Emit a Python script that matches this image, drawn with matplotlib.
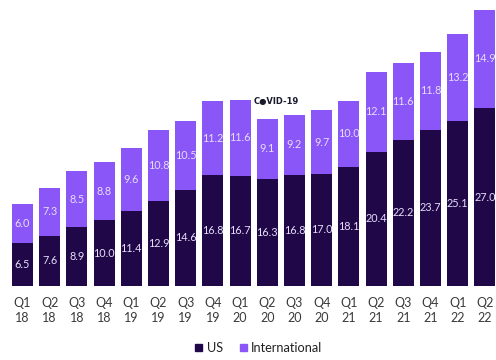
import matplotlib
matplotlib.use("Agg")
import matplotlib.pyplot as plt
from matplotlib.patches import Patch

quarters = ["Q1\n18", "Q2\n18", "Q3\n18", "Q4\n18",
            "Q1\n19", "Q2\n19", "Q3\n19", "Q4\n19",
            "Q1\n20", "Q2\n20", "Q3\n20", "Q4\n20",
            "Q1\n21", "Q2\n21", "Q3\n21", "Q4\n21",
            "Q1\n22", "Q2\n22"]
us = [6.5, 7.6, 8.9, 10.0, 11.4, 12.9, 14.6, 16.8, 16.7,
      16.3, 16.8, 17.0, 18.1, 20.4, 22.2, 23.7, 25.1, 27.0]
international = [6.0, 7.3, 8.5, 8.8, 9.6, 10.8, 10.5, 11.2, 11.6,
                 9.1, 9.2, 9.7, 10.0, 12.1, 11.6, 11.8, 13.2, 14.9]
covid_index = 9

dark = "#200848"
light = "#8a56f7"
label_col = "#e6ddfa"

plt.rcParams["font.family"] = ["Lato", "DejaVu Sans"]

fig = plt.figure(figsize=(4.96, 3.6), dpi=100)
ax = fig.add_axes([0, 74 / 360, 1, 286 / 360])

x = list(range(len(quarters)))
width = 0.772
ax.bar(x, us, width, color=dark, edgecolor="none")
ax.bar(x, international, width, bottom=us, color=light, edgecolor="none")

for i in x:
    ax.text(i, us[i] / 2, f"{us[i]:.1f}", ha="center", va="center",
            color=label_col, fontsize=7.8)
    ax.text(i, us[i] + international[i] / 2, f"{international[i]:.1f}",
            ha="center", va="center", color=label_col, fontsize=7.8)

top = us[covid_index - 1] + international[covid_index - 1]
ax.text(covid_index + 0.33, top - 0.3, "C\u25cfVID-19", ha="center",
        va="center", fontsize=6, fontweight="bold", color="#1a1a2e",
        family=["DejaVu Sans"])

ax.set_xlim(-0.827, 17.408)
ax.set_ylim(0, 43.4)
ax.set_xticks(x)
ax.set_xticklabels(quarters, fontsize=9, color="#3a3a3a", linespacing=1.3)
ax.tick_params(axis="x", length=0, pad=8)
ax.set_yticks([])
for s in ax.spines.values():
    s.set_visible(False)

handles = [Patch(color=dark, label="US"), Patch(color=light, label="International")]
fig.legend(handles=handles, loc="center", bbox_to_anchor=(0.522, 12 / 360),
           ncol=2, frameon=False, fontsize=9.2, handlelength=0.55,
           handleheight=0.55, handletextpad=0.35, columnspacing=1.3,
           labelcolor="#222222")

fig.savefig("out.png", dpi=100)
